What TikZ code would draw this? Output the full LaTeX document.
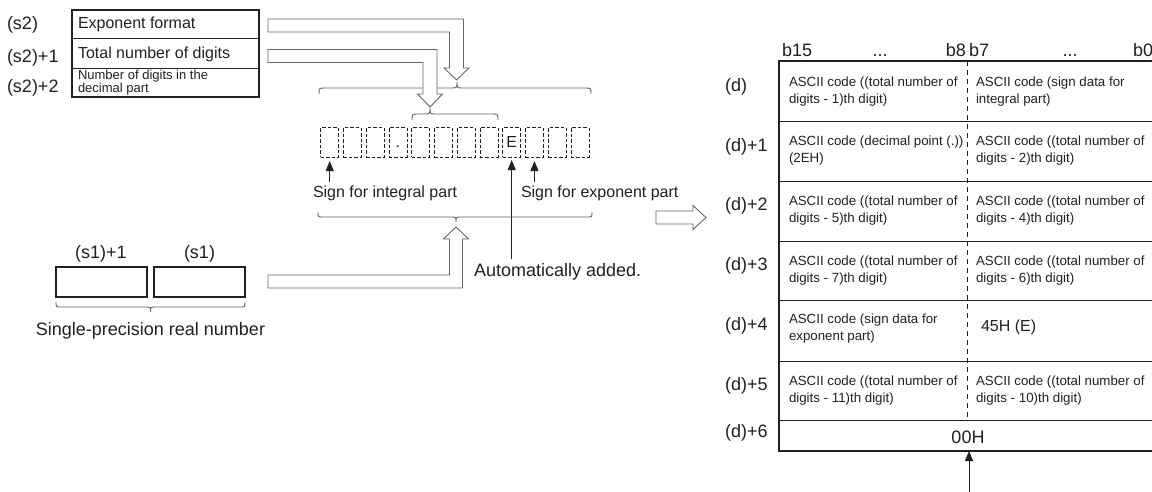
\documentclass[tikz,border=0pt]{standalone}
\usepackage{fontspec}
\setmainfont{Liberation Sans}
\usetikzlibrary{arrows.meta}
\definecolor{ink}{RGB}{35,31,32}
\definecolor{hollow}{RGB}{100,100,100}
\begin{document}
\begin{tikzpicture}[x=1pt,y=-1pt,
  every node/.style={inner sep=0pt, outer sep=0pt, text=ink},
  lbl/.style={font=\fontsize{18}{20}\selectfont},
  mid/.style={font=\fontsize{16}{19}\selectfont},
  cell/.style={font=\fontsize{13.3}{17}\selectfont, align=left, anchor=west},
  dbox/.style={draw=ink, dash pattern=on 3.5pt off 2pt, line width=0.8pt, minimum width=18pt, minimum height=29.5pt, font=\fontsize{16}{19}\selectfont},
  harrow/.style={draw=hollow, fill=white, line width=0.9pt, line join=miter},
  brc/.style={draw=hollow, line width=0.9pt},
  blk/.style={draw=ink, line width=1pt, -{Triangle[width=8pt,length=10pt]}},
]
\useasboundingbox (0,0) rectangle (1152,491);
\clip (0,0) rectangle (1152,491);

% ---------- (s2) block ----------
\draw[draw=ink, line width=1.8pt] (72,10) rectangle (259,97);
\draw[draw=ink, line width=0.9pt] (72,38) -- (259,38) (72,68) -- (259,68);
\node[lbl, anchor=west] (s2a) at (7,25) {(s2)};
\node[lbl, anchor=west] (s2b) at (7,57.5) {(s2)+1};
\node[lbl, anchor=west] (s2c) at (7,88) {(s2)+2};
\node[mid, anchor=west] (fmt) at (78,24.5) {Exponent format};
\node[mid, anchor=west] (tot) at (78,54) {Total number of digits};
\node[font=\fontsize{13}{12}\selectfont, align=left, anchor=west] (dec) at (78,82.5) {Number of digits in the\\decimal part};

% ---------- braces over digits ----------
\draw[brc] (319,94) .. controls (319,88) .. (325,88) -- (451,88) .. controls (457,88) .. (457,82) .. controls (457,88) .. (463,88) -- (585,88) .. controls (591,88) .. (591,94);
\draw[brc] (412,120) .. controls (412,114) .. (418,114) -- (424,114) .. controls (430,114) .. (430,108) .. controls (430,114) .. (436,114) -- (492,114) .. controls (498,114) .. (498,120);

% ---------- hollow arrows from (s2) ----------
\draw[harrow] (268,19) -- (463.5,19) -- (463.5,68) -- (469,68) -- (456.5,80) -- (444,68) -- (449.5,68) -- (449.5,32) -- (268,32) -- cycle;
\draw[harrow] (268,49.5) -- (437,49.5) -- (437,94) -- (442.5,94) -- (430,107) -- (417.5,94) -- (423,94) -- (423,62.5) -- (268,62.5) -- cycle;

% ---------- digit boxes ----------
\foreach \i in {0,...,11} {
  \node[dbox] (c\i) at ({329.7+22.75*\i},142.25) {};
}
\node[mid] (dot) at (c3.center) {\vphantom{E}.};
\node[mid] (ee) at (c8.center) {E};

% ---------- black arrows and labels ----------
\node[mid, anchor=west] (sint) at (313,193) {Sign for integral part};
\node[mid, anchor=west] (sexp) at (521,193) {Sign for exponent part};
\node[font=\fontsize{18}{20}\selectfont, anchor=west] (auto) at (474,272) {Automatically added.};
\coordinate (aint) at (c0.south |- 0,182);
\coordinate (aexp) at (c9.south |- 0,182);
\coordinate (aE) at (c8.south |- 0,259);
\draw[blk, shorten >=4pt] (aint) -- (c0.south);
\draw[blk, shorten >=4pt] (aexp) -- (c9.south);
\draw[blk, shorten >=3pt] (aE) -- (c8.south);

% ---------- lower brace ----------
\draw[brc] (318,212) .. controls (318,217) .. (323,217) -- (451,217) .. controls (456,217) .. (456,222) .. controls (456,217) .. (461,217) -- (587,217) .. controls (592,217) .. (592,212);

% ---------- (s1) block ----------
\node[lbl] (s1h) at (101,254) {(s1)+1};
\node[lbl] (s1l) at (199.5,254) {(s1)};
\draw[draw=ink, line width=1.5pt] (56,267) rectangle (147,297);
\draw[draw=ink, line width=1.5pt] (154,267) rectangle (245,297);
\draw[brc] (56,302) .. controls (56,307) .. (61,307) -- (145.5,307) .. controls (150.5,307) .. (150.5,312) .. controls (150.5,307) .. (155.5,307) -- (240,307) .. controls (245,307) .. (245,302);
\node[lbl] (spr) at (150.5,331) {Single-precision real number};

% ---------- hollow arrow from (s1) ----------
\draw[harrow] (268,275) -- (449.5,275) -- (449.5,239) -- (443.5,239) -- (456,227) -- (468.5,239) -- (462.5,239) -- (462.5,288) -- (268,288) -- cycle;

% ---------- big right arrow ----------
\draw[harrow] (656,211) -- (693,211) -- (693,205.5) -- (706,217.5) -- (693,229.5) -- (693,224) -- (656,224) -- cycle;

% ---------- result table ----------
\draw[draw=ink, line width=1pt] (779,121) -- (1160,121) (779,181) -- (1160,181) (779,241) -- (1160,241) (779,300) -- (1160,300) (779,361) -- (1160,361) (779,420) -- (1160,420);
\draw[draw=ink, dash pattern=on 5pt off 4pt, line width=1pt] (967,61) -- (967,420);
\draw[draw=ink, line width=2pt] (1160,61) -- (779,61) -- (779,451) -- (1160,451);

\node[lbl, anchor=base west] (b15) at (782,56) {b15};
\node[lbl, anchor=base] (dl) at (880,56) {...};
\node[lbl, anchor=base east] (b8) at (966,56) {b8};
\node[lbl, anchor=base west] (b7) at (969,56) {b7};
\node[lbl, anchor=base] (dr) at (1070,56) {...};
\node[lbl, anchor=base west] (b0) at (1133,56) {b0};

\node[lbl, anchor=west] (d0) at (725,87) {(d)};
\node[lbl, anchor=west] (d1) at (725,147) {(d)+1};
\node[lbl, anchor=west] (d2) at (725,206) {(d)+2};
\node[lbl, anchor=west] (d3) at (725,265.5) {(d)+3};
\node[lbl, anchor=west] (d4) at (725,326) {(d)+4};
\node[lbl, anchor=west] (d5) at (725,385.5) {(d)+5};
\node[lbl, anchor=west] (d6) at (725,433) {(d)+6};

\node[cell] (l0) at (789,91.5) {ASCII code ((total number of\\digits - 1)th digit)};
\node[cell] (r0) at (976,91.5) {ASCII code (sign data for\\integral part)};
\node[cell] (l1) at (789,151) {ASCII code (decimal point (.))\\(2EH)};
\node[cell] (r1) at (976,151) {ASCII code ((total number of\\digits - 2)th digit)};
\node[cell] (l2) at (789,211) {ASCII code ((total number of\\digits - 5)th digit)};
\node[cell] (r2) at (976,211) {ASCII code ((total number of\\digits - 4)th digit)};
\node[cell] (l3) at (789,270.5) {ASCII code ((total number of\\digits - 7)th digit)};
\node[cell] (r3) at (976,270.5) {ASCII code ((total number of\\digits - 6)th digit)};
\node[cell] (l4) at (789,329) {ASCII code (sign data for\\exponent part)};
\node[mid, anchor=west] (r4) at (981,327) {45H (E)};
\node[cell] (l5) at (789,390.5) {ASCII code ((total number of\\digits - 11)th digit)};
\node[cell] (r5) at (976,390.5) {ASCII code ((total number of\\digits - 10)th digit)};
\node[lbl] (zz) at (968,437) {00H};

\coordinate (tbot) at (969,451);
\coordinate (bstart) at (969,495);
\draw[blk] (bstart) -- (tbot);
\end{tikzpicture}
\end{document}
